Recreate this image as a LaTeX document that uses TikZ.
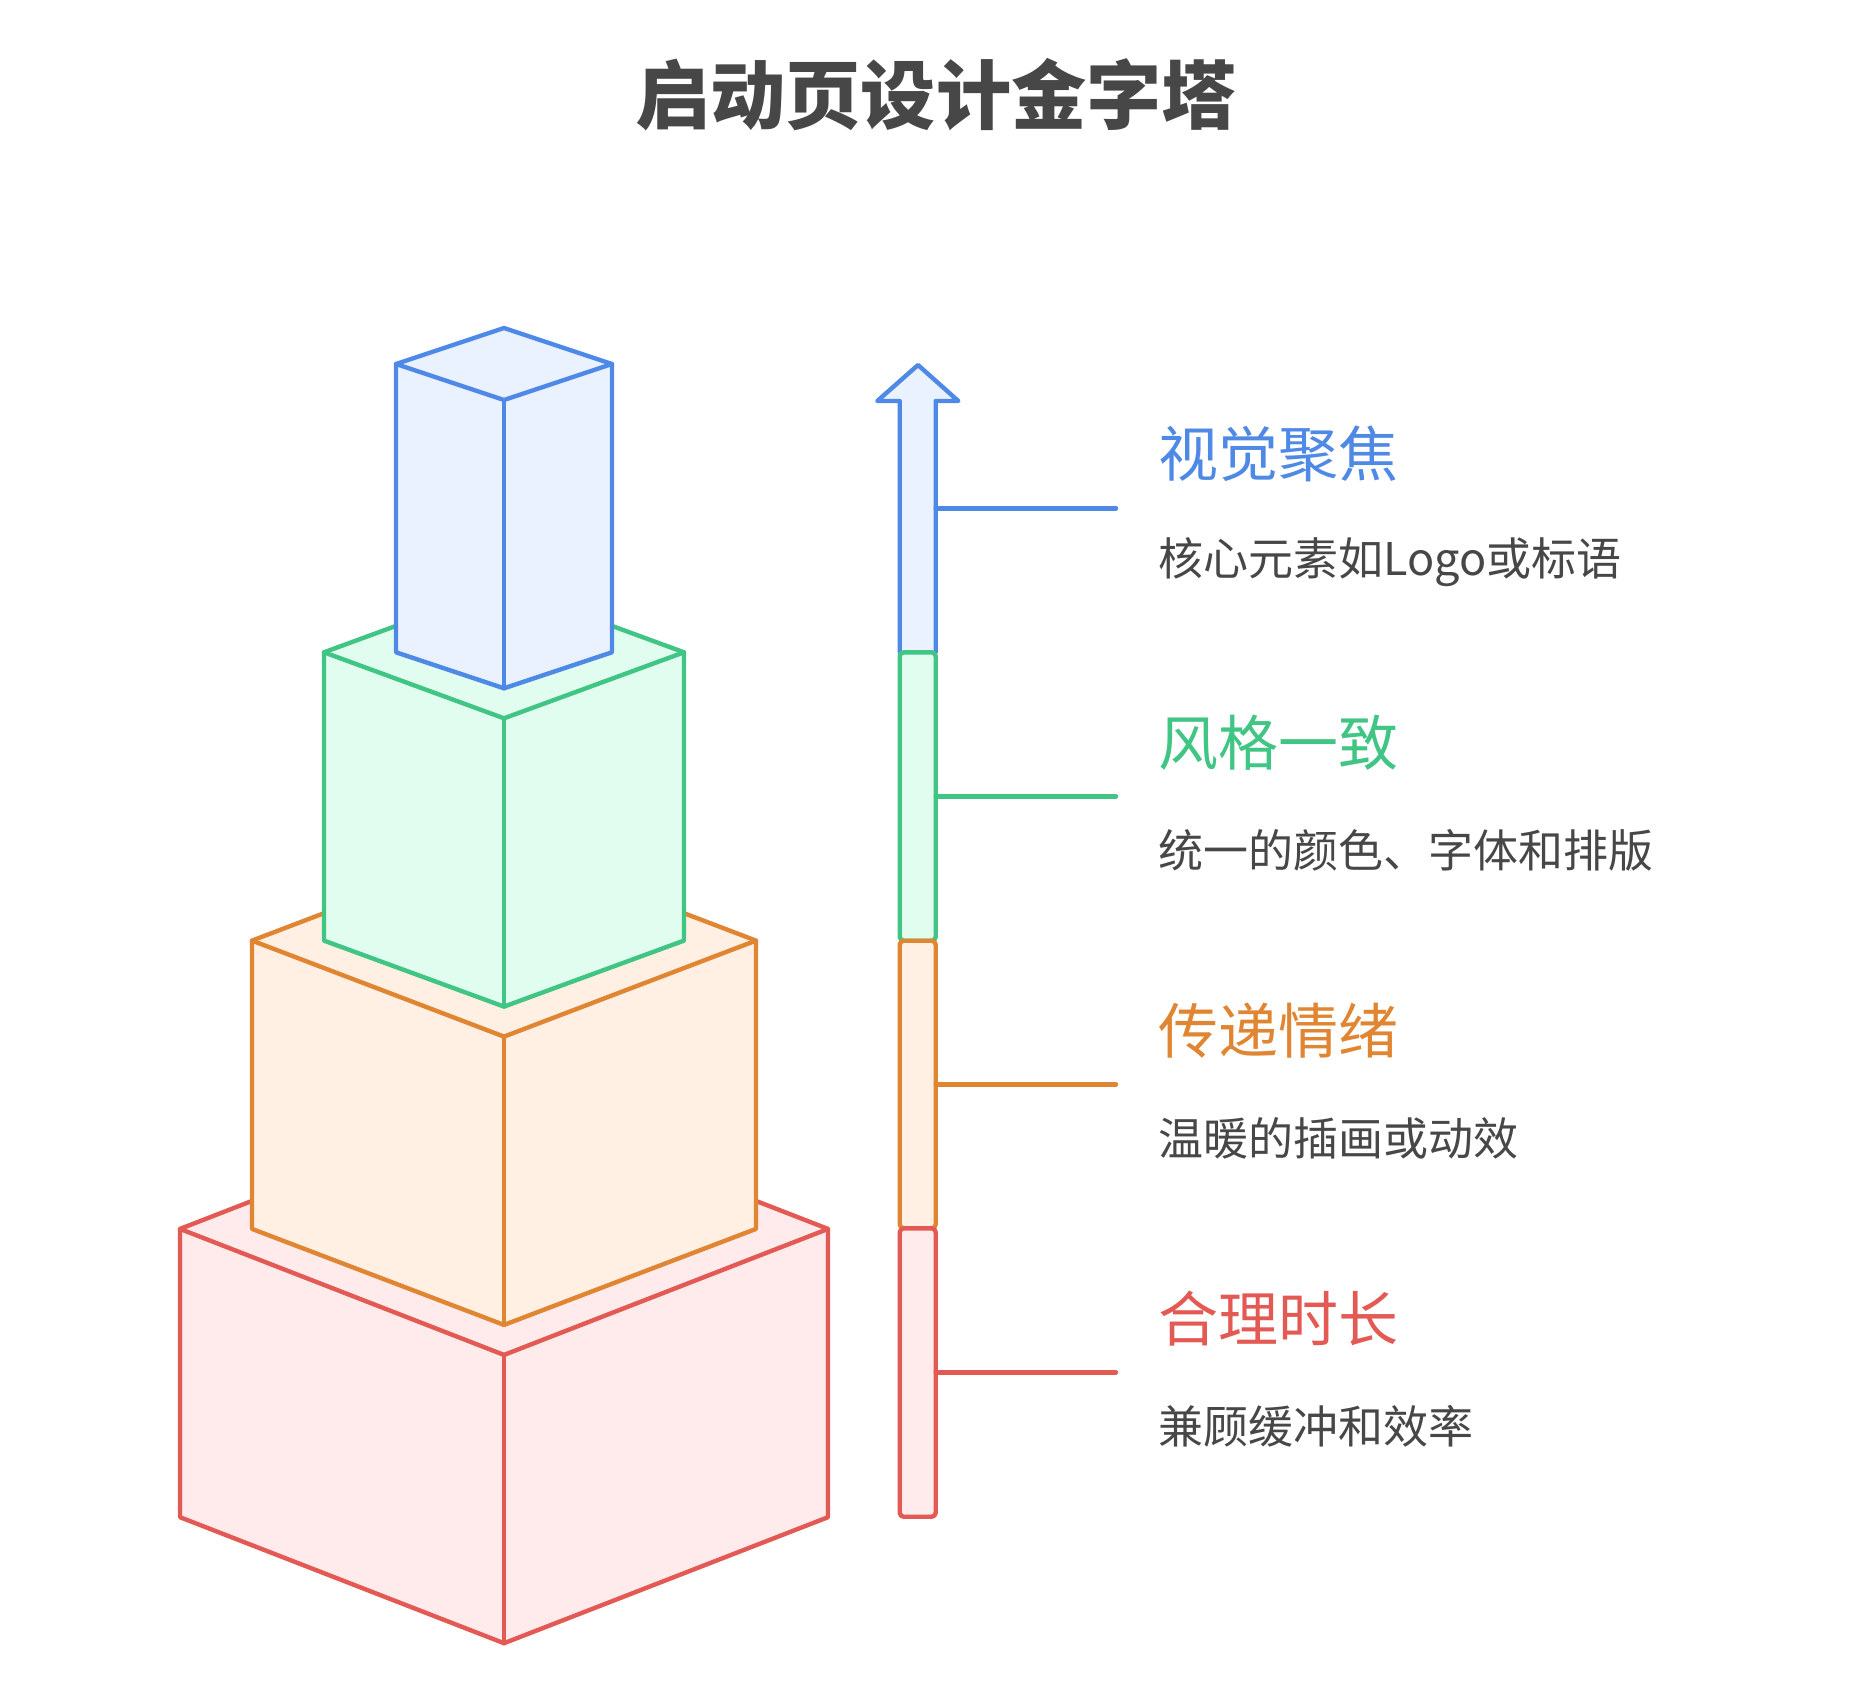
\documentclass[tikz,border=0pt]{standalone}
\usepackage{fontspec}
\setmainfont{Noto Sans CJK SC}
\definecolor{bS}{HTML}{4F89E6}\definecolor{bF}{HTML}{EBF2FF}
\definecolor{gS}{HTML}{40C584}\definecolor{gF}{HTML}{E0FDEF}
\definecolor{oS}{HTML}{E08532}\definecolor{oF}{HTML}{FFF0E3}
\definecolor{rS}{HTML}{E35A55}\definecolor{rF}{HTML}{FFEBEB}
\definecolor{txt}{HTML}{474747}
\tikzset{
  edge/.style={line width=2.2pt,line join=round,line cap=round},
  head/.style={anchor=west,inner sep=0pt,font=\fontsize{30pt}{33pt}\selectfont},
  sub/.style={anchor=west,inner sep=0pt,text=txt,font=\fontsize{22.5pt}{26pt}\selectfont},
  link/.style={line width=2.2pt,line cap=round}
}
\begin{document}
\begin{tikzpicture}[x=0.5pt,y=-0.5pt]
\useasboundingbox (0,0) rectangle (1872,1707);
% title
\node[inner sep=0pt,text=txt,font=\fontsize{37.6pt}{40pt}\selectfont\bfseries] (title) at (936,95) {启动页设计金字塔};
% pyramid boxes
\foreach \k/\s/\f in {3/rS/rF,2/oS/oF,1/gS/gF,0/bS/bF}{
  \pgfmathsetmacro{\hw}{108+72*\k}
  \pgfmathsetmacro{\r}{36+30*\k}
  \pgfmathsetmacro{\yt}{364+288.3*\k}
  \pgfmathsetmacro{\yb}{\yt+288.3}
  \filldraw[edge,fill=\f,draw=\s] (504-\hw,\yt) -- (504,\yt-\r) -- (504+\hw,\yt) -- (504+\hw,\yb) -- (504,\yb+\r) -- (504-\hw,\yb) -- cycle;
  \draw[edge,draw=\s] (504-\hw,\yt) -- (504,\yt+\r) -- (504+\hw,\yt);
  \draw[edge,draw=\s] (504,\yt+\r) -- (504,\yb+\r);
}
% arrow bar
\filldraw[edge,fill=bF,draw=bS] (899.7,652.3) -- (899.7,401) -- (877.3,401) -- (918,365) -- (958.3,401) -- (935.7,401) -- (935.7,652.3);
\filldraw[edge,fill=gF,draw=gS,rounded corners=2pt] (899.7,652.3) rectangle (935.7,940.7);
\filldraw[edge,fill=oF,draw=oS,rounded corners=2pt] (899.7,940.7) rectangle (935.7,1228.3);
\filldraw[edge,fill=rF,draw=rS,rounded corners=2pt] (899.7,1228.3) rectangle (935.7,1516.7);
% connectors and labels
\foreach \i/\y/\s/\h/\t in {1/508.3/bS/视觉聚焦/核心元素如Logo或标语,
                             2/796.5/gS/风格一致/统一的颜色、字体和排版,
                             3/1084.5/oS/传递情绪/温暖的插画或动效,
                             4/1372.5/rS/合理时长/兼顾缓冲和效率}{
  \coordinate (bar\i) at (935.7,\y);
  \coordinate (end\i) at (1116,\y);
  \draw[link,draw=\s] (bar\i) -- (end\i);
  \node[head,text=\s] (h\i) at (1158,\y-54) {\h};
  \node[sub] (s\i) at (1158,\y+54) {\t};
}
\end{tikzpicture}
\end{document}
